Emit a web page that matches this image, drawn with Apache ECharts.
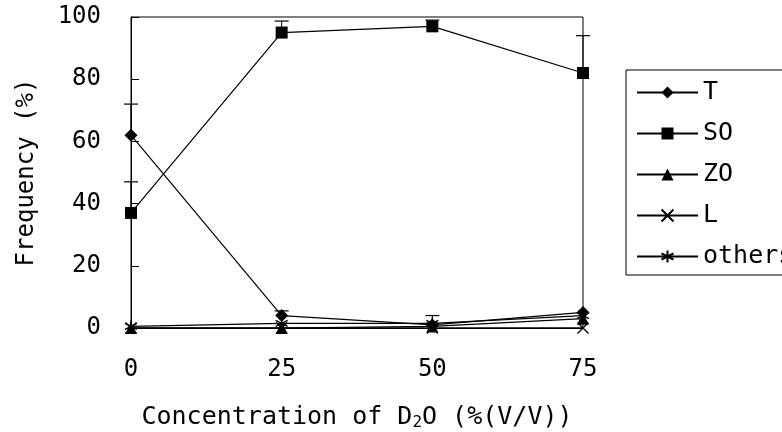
<!DOCTYPE html>
<html>
<head>
<meta charset="utf-8">
<script src="https://cdn.jsdelivr.net/npm/echarts@6/dist/echarts.min.js"></script>
<style>
  html, body { margin: 0; padding: 0; background: #fff; }
  #chart { width: 782px; height: 432px; }
</style>
</head>
<body>
<div id="chart"></div>
<script>
// D2O concentration (%(V/V))
var concentrations = [0, 25, 50, 75];
var yTicks = [0, 20, 40, 60, 80, 100];

// frequency (%) of each form
var tValues = [62, 4, 1, 5];
var soValues = [37, 95, 97, 82];
var zoValues = [0, 0, 0.5, 3];
var lValues = [0, 0, 0, 0];
var othersValues = [0.5, 1.5, 1.5, 4];

// upper error bars (only the + side is drawn)
var tErr = [10, 1.5, 3, 0];
var soErr = [10, 3.7, 2, 12];

var seriesNames = ['T', 'SO', 'ZO', 'L', 'others'];

var FONT = 'DejaVu Sans Mono';
var crossPath = 'path://M0,0L10,10M10,0L0,10';
var starPath = 'path://M5,0L5,10M0,2.5L10,7.5M0,7.5L10,2.5';

function pairs(vals) {
    return concentrations.map(function (x, i) { return [x, vals[i]]; });
}

function errPairs(vals, errs) {
    return concentrations.map(function (x, i) { return [x, vals[i], errs[i]]; });
}

function lineSeries(name, vals, symbol, size, hollow) {
    return {
        name: name,
        type: 'line',
        data: pairs(vals),
        symbol: symbol,
        symbolSize: size,
        showAllSymbol: true,
        lineStyle: {color: '#000', width: 1.2},
        itemStyle: hollow
            ? {color: 'rgba(0,0,0,0)', borderColor: '#000', borderWidth: 1.4}
            : {color: '#000'},
        emphasis: {disabled: true},
        animation: false
    };
}

function errorSeries(vals, errs) {
    return {
        type: 'custom',
        silent: true,
        animation: false,
        z: 1,
        data: errPairs(vals, errs),
        renderItem: function (params, api) {
            var err = api.value(2);
            if (!err) return;
            var base = api.coord([api.value(0), api.value(1)]);
            var top = api.coord([api.value(0), api.value(1) + err]);
            var half = 7;
            return {
                type: 'group',
                children: [
                    {type: 'line', shape: {x1: base[0], y1: base[1], x2: top[0], y2: top[1]},
                        style: {stroke: '#000', lineWidth: 1}},
                    {type: 'line', shape: {x1: top[0] - half, y1: top[1], x2: top[0] + half, y2: top[1]},
                        style: {stroke: '#000', lineWidth: 1.2}}
                ]
            };
        }
    };
}

var chart = echarts.init(document.getElementById('chart'));
chart.setOption({
    backgroundColor: '#fff',
    textStyle: {fontFamily: FONT, color: '#000'},
    grid: {
        left: 131, right: 199, top: 17, bottom: 104,
        containLabel: false,
        outerBoundsMode: 'none',
        show: true, borderColor: '#000', borderWidth: 1
    },
    legend: {
        data: seriesNames,
        orient: 'vertical',
        left: 626,
        top: 70,
        padding: [9, 60, 5, 10],
        borderColor: '#000',
        borderWidth: 1,
        itemWidth: 61,
        itemHeight: 15,
        itemGap: 14,
        selectedMode: false,
        textStyle: {fontFamily: FONT, fontSize: 25, lineHeight: 27, color: '#000'}
    },
    xAxis: {
        type: 'value',
        min: 0,
        max: 75,
        interval: 25,
        splitLine: {show: false},
        axisLine: {lineStyle: {color: '#000', width: 1}},
        axisTick: {show: false},
        axisLabel: {fontFamily: FONT, fontSize: 24, color: '#000', margin: 30},
        name: 'Concentration of D{sub|2}O (%(V/V))',
        nameLocation: 'middle',
        nameGap: 75,
        nameTextStyle: {
            fontFamily: FONT, fontSize: 25, color: '#000',
            rich: {sub: {fontFamily: FONT, fontSize: 16, color: '#000', verticalAlign: 'bottom', padding: [12, 0, 0, 0]}}
        }
    },
    yAxis: {
        type: 'value',
        min: yTicks[0],
        max: yTicks[yTicks.length - 1],
        interval: yTicks[1] - yTicks[0],
        splitLine: {show: false},
        axisLine: {show: true, lineStyle: {color: '#000', width: 1}},
        axisTick: {show: true, inside: true, length: 8, lineStyle: {color: '#000'}},
        axisLabel: {fontFamily: FONT, fontSize: 24, color: '#000', margin: 30, padding: [7, 0, 0, 0]},
        name: 'Frequency (%)',
        nameLocation: 'middle',
        nameGap: 92,
        nameTextStyle: {fontFamily: FONT, fontSize: 24, color: '#000'}
    },
    series: [
        errorSeries(tValues, tErr),
        errorSeries(soValues, soErr),
        lineSeries('L', lValues, crossPath, 11, true),
        lineSeries('others', othersValues, starPath, 12, true),
        lineSeries('ZO', zoValues, 'triangle', 12, false),
        lineSeries('T', tValues, 'diamond', 13, false),
        lineSeries('SO', soValues, 'rect', 12, false)
    ]
});
</script>
</body>
</html>
